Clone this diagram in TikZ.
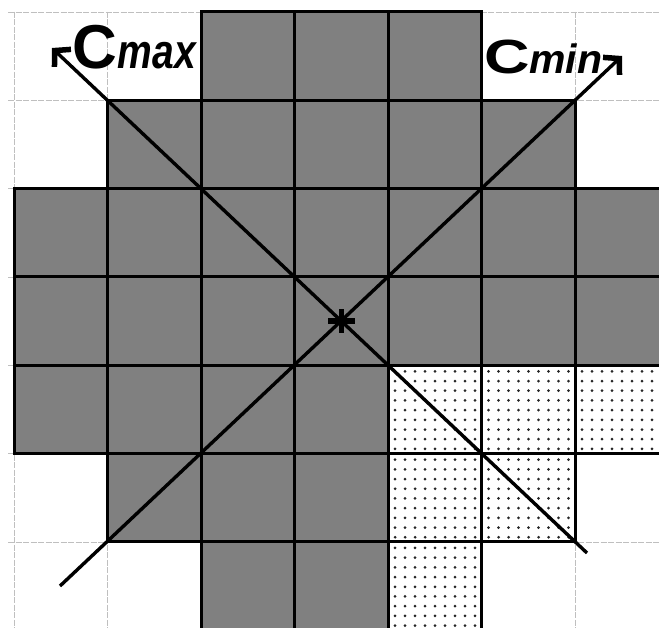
\documentclass[tikz,border=0pt]{standalone}
\usepackage{fontspec}
\setmainfont{Liberation Sans}
\usetikzlibrary{arrows.meta}
\begin{document}
\begin{tikzpicture}[x=1pt,y=-1pt,
  lightgrid/.style={draw=black!25, line width=0.9pt, dash pattern=on 6pt off 1.5pt},
  cellgray/.style={fill=black!50},
  cellborder/.style={draw=black, line width=3pt},
  axisline/.style={draw=black, line width=3.4pt},
  dotfill/.style={fill=black!85},
  barb/.style={-{Straight Barb[length=11pt,width=24pt,line width=5.5pt]}},
  lbl/.style={anchor=base west, inner sep=0pt, outer sep=0pt}]
\useasboundingbox (0,0) rectangle (659,628);
\clip (0,0) rectangle (659,628);
\fill[white] (0,0) rectangle (659,628);
% light background grid
\foreach \i in {0,...,6} {\draw[lightgrid] ({14+93.5*\i},12) -- ({14+93.5*\i},640);}
\foreach \j in {0,...,6} {\draw[lightgrid] (8,{12+88.33*\j}) -- (670,{12+88.33*\j});}
% gray cells
\foreach \c/\r in {2/0,3/0,4/0,
  1/1,2/1,3/1,4/1,5/1,
  0/2,1/2,2/2,3/2,4/2,5/2,6/2,
  0/3,1/3,2/3,3/3,4/3,5/3,6/3,
  0/4,1/4,2/4,3/4,
  1/5,2/5,3/5,
  2/6,3/6}
  {\fill[cellgray] ({14+93.5*\c},{12+88.33*\r}) rectangle +(93.5,88.33);}
% dotted cells
\foreach \c/\r in {4/4,5/4,6/4,4/5,5/5,4/6}
  {\foreach \a in {0,...,8} {\foreach \b in {0,...,8}
    {\fill[dotfill] ({14+93.5*\c+7+10*\a},{12+88.33*\r+6+9.7*\b}) circle (1.5);}}}
% borders of filled cells
\foreach \c/\r in {2/0,3/0,4/0,
  1/1,2/1,3/1,4/1,5/1,
  0/2,1/2,2/2,3/2,4/2,5/2,6/2,
  0/3,1/3,2/3,3/3,4/3,5/3,6/3,
  0/4,1/4,2/4,3/4,4/4,5/4,6/4,
  1/5,2/5,3/5,4/5,5/5,
  2/6,3/6,4/6}
  {\draw[cellborder] ({14+93.5*\c},{12+88.33*\r}) rectangle +(93.5,88.33);}
% axes
\coordinate (maxS) at (52,48);
\coordinate (maxE) at (587,553);
\coordinate (minS) at (60,586);
\coordinate (minE) at (622,56);
\draw[axisline,barb] (maxE) -- (maxS);
\draw[axisline,barb] (minS) -- (minE);
% centre mark
\coordinate (ctr) at (341.25,321);
\draw[line width=6pt] ([xshift=-13pt]ctr) -- ([xshift=14pt]ctr);
\draw[line width=5pt] ([yshift=-12pt]ctr) -- ([yshift=12pt]ctr);
% labels
\node[lbl] (cmaxC) at (72,69) {\fontsize{62}{62}\selectfont\bfseries C};
\node[lbl] (cmaxS) at ([xshift=1pt]cmaxC.base east) {\scalebox{1}[1.25]{\fontsize{39}{39}\selectfont\bfseries\itshape max}};
\node[lbl] (cminC) at (484,74) {\scalebox{1.05}[0.8]{\fontsize{60}{60}\selectfont\bfseries C}};
\node[lbl] (cminS) at (cminC.base east) {\fontsize{41}{41}\selectfont\bfseries\itshape min};
\end{tikzpicture}
\end{document}
